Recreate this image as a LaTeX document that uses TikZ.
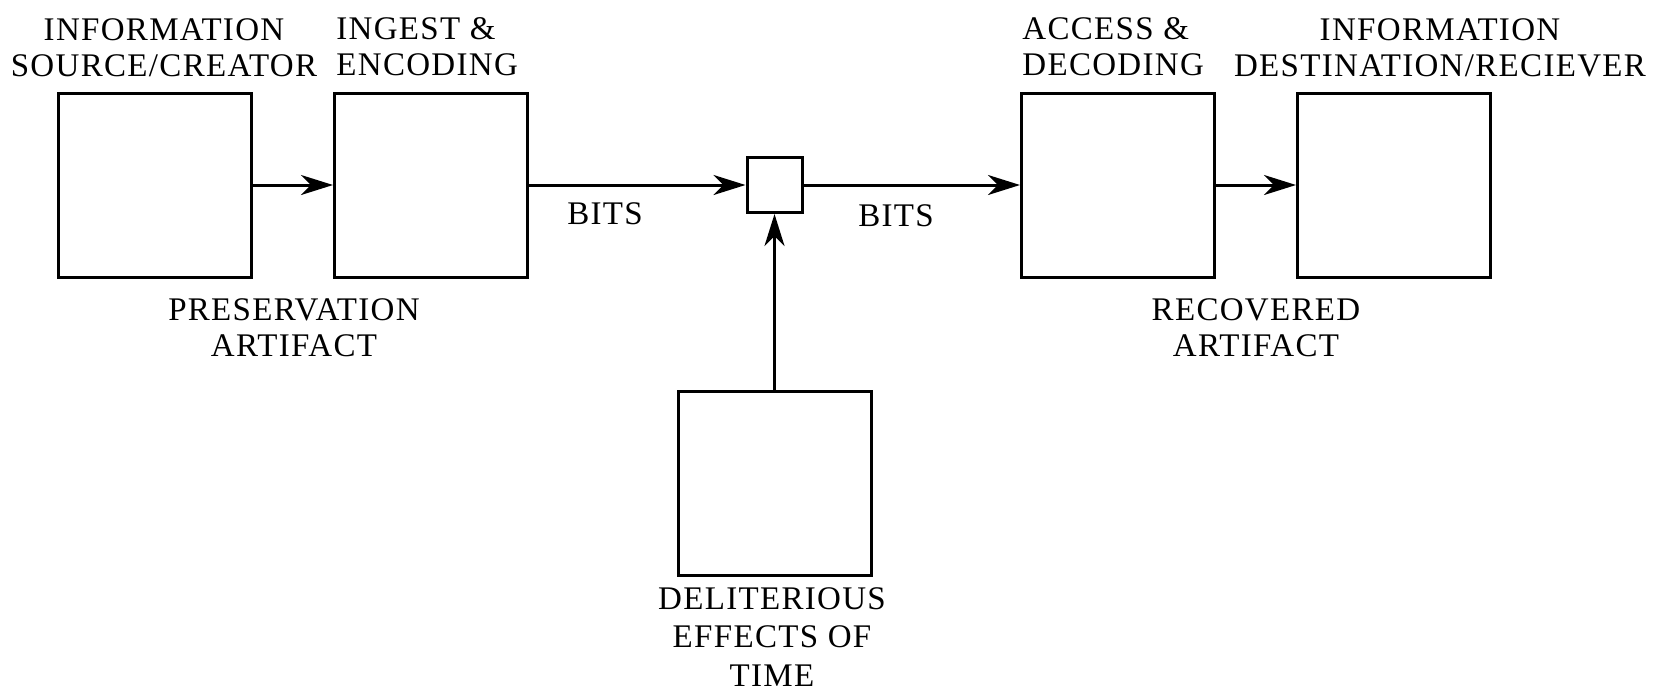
\documentclass[tikz,border=0pt]{standalone}
\usepackage{fontspec}
\setmainfont{Liberation Serif}[LetterSpace=4]
\usetikzlibrary{arrows.meta}
\begin{document}
\begin{tikzpicture}[x=0.5pt,y=-0.5pt,
  bigbox/.style={draw,line width=1.5pt,minimum width=96.5pt,minimum height=92pt,inner sep=0pt},
  lbl/.style={inner sep=0pt,align=center,font=\fontsize{16.5}{18.3}\selectfont},
  lblb/.style={lbl,font=\fontsize{16.5}{19.2}\selectfont},
  flow/.style={line width=1.5pt,-{Stealth[length=16pt,width=10pt,inset=5pt]}}]
\useasboundingbox[fill=white] (0,0) rectangle (1659,692);
\node[bigbox] (src) at (155,185) {};
\node[bigbox] (enc) at (431,185) {};
\node[bigbox] (dec) at (1118,185) {};
\node[bigbox] (dst) at (1394,185) {};
\node[bigbox] (time) at (774.5,483.5) {};
\node[draw,line width=1.5pt,minimum width=27.5pt,minimum height=27.5pt,inner sep=0pt] (mid) at (774.5,185) {};
\draw[flow] (src) -- (enc);
\draw[flow] (enc) -- (mid);
\draw[flow] (mid) -- (dec);
\draw[flow] (dec) -- (dst);
\draw[flow] (time) -- (mid);
\node[lbl,anchor=north] (t1) at (164,18) {INFORMATION\\SOURCE/CREATOR};
\node[lbl,anchor=north west,align=left] (t2) at (336,17) {INGEST \&\\ENCODING};
\node[lbl,anchor=north west,align=left] (t3) at (1022,17) {ACCESS \&\\DECODING};
\node[lbl,anchor=north] (t4) at (1440,18) {INFORMATION\\DESTINATION/RECIEVER};
\node[lbl,anchor=north] (t5) at (294,298) {PRESERVATION\\ARTIFACT};
\node[lbl,anchor=north] (t6) at (1256,298) {RECOVERED\\ARTIFACT};
\node[lbl,anchor=base] (b1) at (605,224) {BITS};
\node[lbl,anchor=base] (b2) at (896,226) {BITS};
\node[lblb,anchor=north] (t7) at (772,587) {DELITERIOUS\\EFFECTS OF\\TIME};
\end{tikzpicture}
\end{document}
